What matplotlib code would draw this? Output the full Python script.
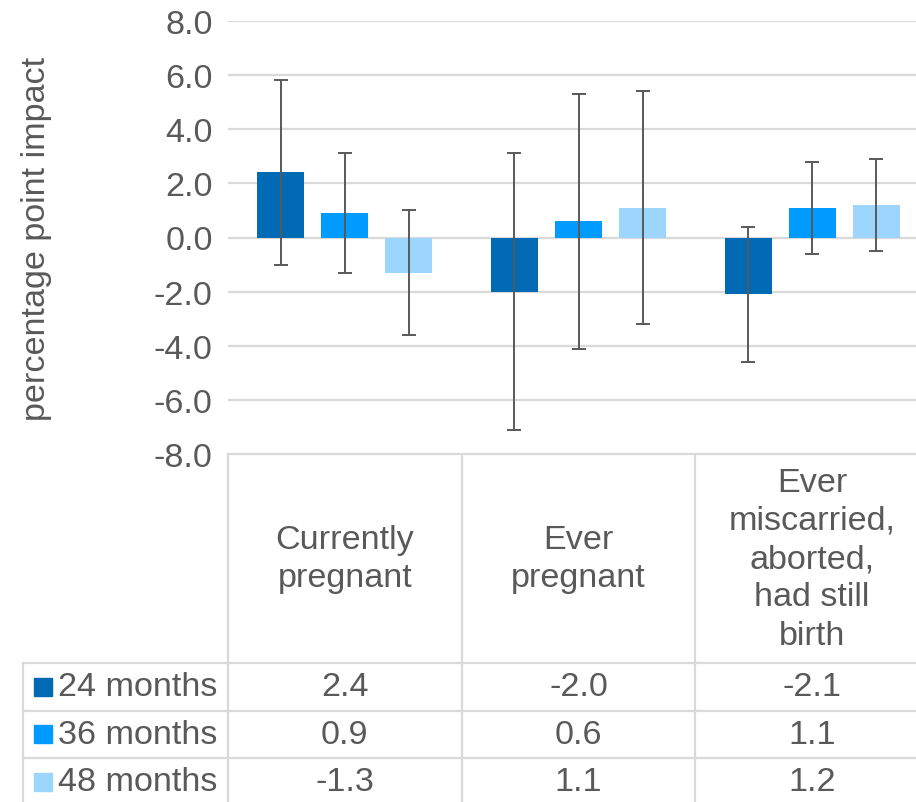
import numpy as np
import matplotlib
matplotlib.use("Agg")
import matplotlib.pyplot as plt
from matplotlib.lines import Line2D
from matplotlib.patches import Rectangle

plt.rcParams['font.family'] = ['Liberation Sans', 'DejaVu Sans']

categories = ["Currently\npregnant", "Ever\npregnant",
              "Ever\nmiscarried,\naborted,\nhad still\nbirth"]
series = ["24 months", "36 months", "48 months"]
v24 = [2.4, -2.0, -2.1]
v36 = [0.9, 0.6, 1.1]
v48 = [-1.3, 1.1, 1.2]
# confidence intervals
lo24 = [-1.0, -7.1, -4.6]; hi24 = [5.8, 3.1, 0.4]
lo36 = [-1.3, -4.1, -0.6]; hi36 = [3.1, 5.3, 2.8]
lo48 = [-3.6, -3.2, -0.5]; hi48 = [1.0, 5.4, 2.9]
yticks = [-8, -6, -4, -2, 0, 2, 4, 6, 8]

colors = ["#006AB4", "#009BFF", "#9CD6FF"]
grid_c = "#D9D9D9"
text_c = "#595959"
FS = 24.6

W, H = 916, 803
fig = plt.figure(figsize=(W / 100, H / 100), dpi=100)

# plot area in pixels (runs a little past the right edge, like the source)
left, right, top, bottom = 228, 929, 21.7, 455.3
ax = fig.add_axes([left / W, (H - bottom) / H, (right - left) / W, (bottom - top) / H])

x = np.arange(len(categories))
width, step = 0.2, 0.274
vals = [v24, v36, v48]
los = [lo24, lo36, lo48]
his = [hi24, hi36, hi48]
for i, (v, lo, hi) in enumerate(zip(vals, los, his)):
    pos = x + (i - 1) * step
    v = np.array(v); lo = np.array(lo); hi = np.array(hi)
    ax.bar(pos, v, width, color=colors[i], zorder=2)
    ax.errorbar(pos, v, yerr=[v - lo, hi - v], fmt="none", ecolor=text_c,
                elinewidth=1.4, capsize=5, capthick=1.4, zorder=3)

ax.set_xlim(-0.5, len(categories) - 0.5)
ax.set_ylim(-8, 8)
ax.set_yticks(yticks)
ax.set_yticklabels([f"{t:.1f}" for t in yticks], fontsize=FS, color=text_c)
ax.tick_params(axis="y", length=0, pad=11)
ax.tick_params(axis="x", length=0, labelbottom=False)
ax.yaxis.grid(True, color=grid_c, lw=1.6, zorder=0)
for s in ax.spines.values():
    s.set_visible(False)
ax.set_ylabel("percentage point impact", fontsize=FS, color=text_c)
ax.yaxis.set_label_coords((52 - left) / (right - left), 0.5)

# data table below the plot, drawn on a full-figure overlay in pixel units
tab = fig.add_axes([0, 0, 1, 1], zorder=-1)
tab.set_xlim(0, W); tab.set_ylim(H, 0); tab.axis("off")

def xpix(xd):
    return ax.transData.transform((xd, 0))[0]

col_edges = [xpix(c - 0.5) for c in range(len(categories) + 1)]
head_bot = 664
row_h = 47.5
rows = [head_bot + k * row_h for k in range(len(series) + 1)]
leg_left = 23

lk = dict(color=grid_c, lw=1.6)
tab.add_line(Line2D([col_edges[0], W + 20], [bottom, bottom], **lk))
for xe in col_edges:
    tab.add_line(Line2D([xe, xe], [bottom, H + 20], **lk))
tab.add_line(Line2D([leg_left, leg_left], [head_bot, H + 20], **lk))
for ry in rows[:-1]:
    tab.add_line(Line2D([leg_left, W + 20], [ry, ry], **lk))

for c, lab in enumerate(categories):
    tab.text((col_edges[c] + col_edges[c + 1]) / 2, (bottom + head_bot) / 2, lab,
             ha="center", va="center", fontsize=FS, color=text_c, linespacing=1.3)

for r, name in enumerate(series):
    cy = (rows[r] + rows[r + 1]) / 2
    tab.add_patch(Rectangle((34, cy - 9), 18, 18, color=colors[r]))
    tab.text(58, cy, name, ha="left", va="center", fontsize=FS, color=text_c)
    for c in range(len(categories)):
        tab.text((col_edges[c] + col_edges[c + 1]) / 2, cy, f"{vals[r][c]:.1f}",
                 ha="center", va="center", fontsize=FS, color=text_c)

fig.savefig("out.png", dpi=100)
